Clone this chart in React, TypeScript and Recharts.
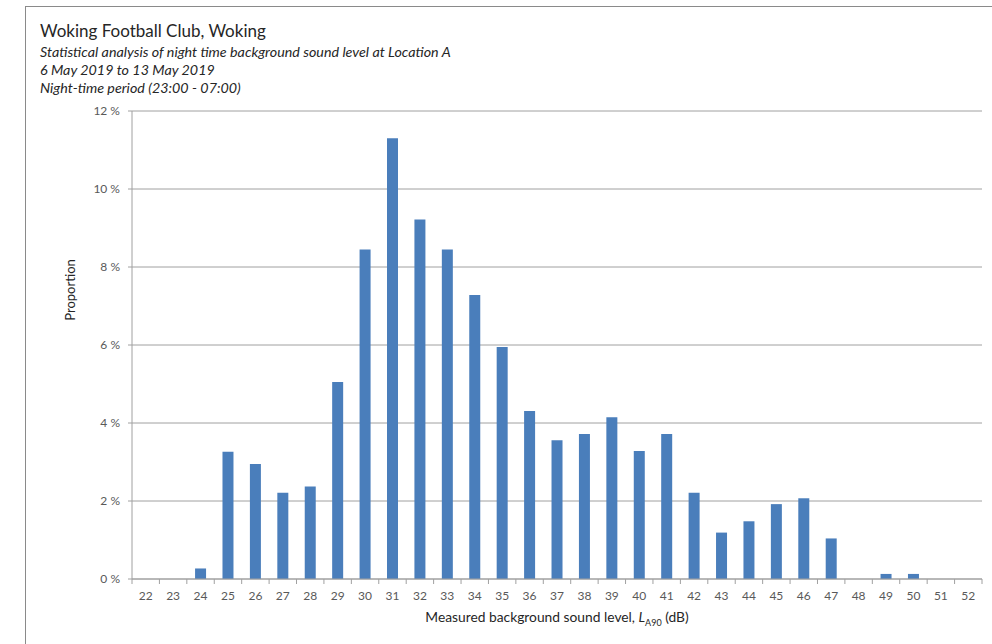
import React from "react";
import { BarChart, Bar, XAxis, YAxis, CartesianGrid } from "recharts";

const levels = ["22","23","24","25","26","27","28","29","30","31","32","33","34","35","36","37","38","39","40","41","42","43","44","45","46","47","48","49","50","51","52"];
const proportions = [0, 0, 0.27, 3.26, 2.95, 2.21, 2.37, 5.05, 8.45, 11.3, 9.22, 8.45, 7.28, 5.95, 4.31, 3.56, 3.72, 4.15, 3.28, 3.72, 2.21, 1.19, 1.48, 1.92, 2.07, 1.04, 0, 0.13, 0.13, 0, 0];
const yTicks = [0, 2, 4, 6, 8, 10, 12];

const data = levels.map((l, i) => ({ level: l, value: proportions[i] }));

const FONT = "Lato, 'Liberation Sans', Arial, sans-serif";
const AXIS = "#a0a0a0";
const TEXT = "#595959";

const PLOT_LEFT = 132;
const PLOT_RIGHT = 982;
const PLOT_BOTTOM = 579;
const BAND = (PLOT_RIGHT - PLOT_LEFT) / levels.length;

const XTick = (props: any) => {
  const { x, payload, index } = props;
  const isLast = index === levels.length - 1;
  const y = PLOT_BOTTOM;
  return (
    <g>
      <line x1={x - BAND / 2} x2={x - BAND / 2} y1={y} y2={y + 5} stroke={AXIS} strokeWidth={1} />
      {isLast && <line x1={x + BAND / 2} x2={x + BAND / 2} y1={y} y2={y + 5} stroke={AXIS} strokeWidth={1} />}
      <text x={x} y={y + 21} textAnchor="middle" fontSize={12} fill={TEXT} fontFamily={FONT}>{payload.value}</text>
    </g>
  );
};

export default function App() {
  return (
    <div style={{ position: "absolute", left: 0, top: 0, width: 992, height: 644, overflow: "hidden", background: "#fff", fontFamily: FONT }}>
      <div style={{ position: "absolute", left: 25, top: 6, width: 1000, height: 700, border: "1px solid #8a8a8a", boxSizing: "border-box" }} />
      <div style={{ position: "absolute", left: 40, top: 21, fontSize: 17, lineHeight: "20px", color: "#262626", whiteSpace: "nowrap" }}>Woking Football Club, Woking</div>
      <div style={{ position: "absolute", left: 40, top: 43, fontSize: 14.3, lineHeight: "18px", color: "#262626", fontStyle: "italic", whiteSpace: "nowrap" }}>
        <div>Statistical analysis of night time background sound level at Location A</div>
        <div>6 May 2019 to 13 May 2019</div>
        <div>Night-time period (23:00 - 07:00)</div>
      </div>
      <div style={{ position: "absolute", left: 70, top: 290, transform: "translate(-50%, -50%) rotate(-90deg)", fontSize: 13, color: "#262626", whiteSpace: "nowrap" }}>Proportion</div>
      <div style={{ position: "absolute", left: 557, top: 618, transform: "translate(-50%, -50%)", fontSize: 13.8, color: "#262626", whiteSpace: "nowrap" }}>
        Measured background sound level, <i>L</i><sub style={{ fontSize: 9 }}>A90</sub> (dB)
      </div>
      <div style={{ position: "absolute", left: 0, top: 0 }}>
        <BarChart width={992} height={644} data={data} margin={{ top: 111, right: 10, bottom: 35, left: 0 }} barCategoryGap="30%">
          <CartesianGrid vertical={false} stroke={AXIS} strokeDasharray="" />
          <XAxis dataKey="level" stroke={AXIS} tickLine={false} tick={<XTick />} interval={0} height={30} />
          <YAxis
            width={132}
            domain={[0, 12]}
            ticks={yTicks}
            stroke={AXIS}
            tickSize={4}
            tickMargin={8}
            interval={0}
            tickFormatter={(v: number) => `${v} %`}
            tick={{ fontSize: 12, fill: TEXT, fontFamily: FONT }}
          />
          <Bar dataKey="value" fill="#4a7ebb" isAnimationActive={false} />
        </BarChart>
      </div>
    </div>
  );
}
